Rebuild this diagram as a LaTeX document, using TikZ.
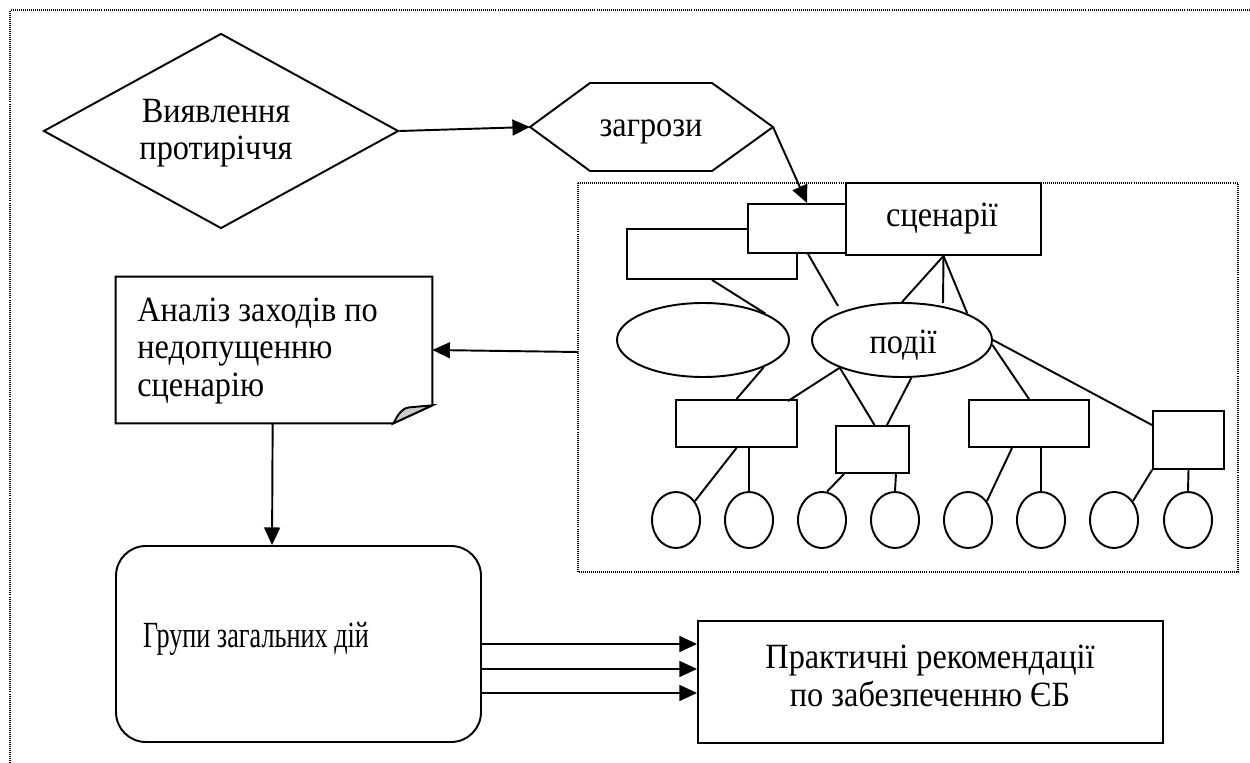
\documentclass[tikz,border=0pt]{standalone}
\usepackage{fontspec}
\setmainfont{Liberation Serif}[FakeStretch=0.91]
\newfontfamily\narrowfont{Liberation Serif}[FakeStretch=0.71]
\usetikzlibrary{shapes.geometric,arrows.meta,calc}
\begin{document}
\begin{tikzpicture}[x=0.02cm,y=-0.02cm,
  every node/.style={font=\fontsize{20.2pt}{21.3pt}\selectfont},
  ln/.style={line width=1.1pt},
  arr/.style={line width=1.1pt,-{Triangle[length=10pt,width=9pt]}},
  box/.style 2 args={draw,rectangle,line width=1.1pt,fill=white,minimum width=#1*0.02cm,minimum height=#2*0.02cm,inner sep=0pt},
  oval/.style 2 args={draw,ellipse,line width=1.1pt,fill=white,minimum width=#1*0.02cm,minimum height=#2*0.02cm,inner sep=0pt},
  dotframe/.style={line width=0.6pt,dash pattern=on 0.5pt off 0.65pt},
  txt/.style={inner sep=0pt}
]
\useasboundingbox (0,0) rectangle (1250,763);
% outer frame
\coordinate (oTR) at (1250,10);
\coordinate (oTL) at (10,10);
\coordinate (oBL) at (10,763);
\draw[dotframe] (oTR) -- (oTL) -- (oBL);

% diamond
\node[draw,diamond,line width=1.1pt,minimum width=355*0.02cm,minimum height=195*0.02cm,inner sep=0pt] (dia) at (221,131) {};
\node[txt,align=center] (diatext) at (216,133) {Виявлення\\протиріччя};

% hexagon
\coordinate (hexW) at (530,127);
\coordinate (hexE) at (773,127);
\draw[ln] (hexW) -- (590,83) -- (712,83) -- (hexE) -- (712,171) -- (590,171) -- cycle;
\node[txt] (threat) at (651,132) {загрози};
\draw[arr] (dia.east) -- (hexW);

% inner frame
\draw[dotframe] (578,183) rectangle (1238,572);
\coordinate (frameW) at (578,352);

% top rectangles
\node[box={170}{50}] (lr) at (712,254) {};
\node[box={100}{49}] (sr) at (798,228.5) {};
\node[box={195}{72}] (scen) at (943.5,219) {};
\node[txt] (scentext) at (942,219) {сценарії};
\draw[arr] (hexE) -- ($(sr.north west)+(60,0)$);

% ellipses
\node[oval={172}{74}] (e1) at (703,340) {};
\node[oval={180}{74}] (ev) at (902,340) {};
\node[txt] (evtext) at (903,345) {події};

% second row rectangles
\node[box={121}{47}] (R1) at (736.5,423.5) {};
\node[box={73}{47}] (R2) at (872.5,449.5) {};
\node[box={120}{47}] (R3) at (1029,423.5) {};
\node[box={71}{58}] (R4) at (1188.5,440) {};

% circles
\foreach \i/\x in {1/676,2/749,3/822,4/895,5/968,6/1041,7/1114,8/1188}
  \node[oval={48}{56}] (c\i) at (\x,520) {};

% connectors top
\coordinate (srEnd) at (838,306);
\coordinate (scEnd) at (943,303);
\draw[ln] (lr.south) -- (e1.23);
\draw[ln] ($(sr.south west)+(61,0)$) -- (srEnd);
\draw[ln] (scen.south) -- (ev.north);
\draw[ln] (scen.south) -- (scEnd);
\draw[ln] (scen.south) -- (ev.22);

% connectors middle
\draw[ln] (e1.-24) -- (R1.north);
\draw[ln] (ev.204) -- ($(R1.north east)+(-10,2)$);
\draw[ln] (ev.204) -- ($(R2.north)+(2,0)$);
\draw[ln] (ev.-76.5) -- ($(R2.north)+(14.5,0)$);
\draw[ln] (ev.-3) -- (R3.north);
\draw[ln] (ev.east) -- ($(R4.north west)+(0,15)$);

% connectors bottom
\draw[ln] (R1.south) -- (c1.45);
\draw[ln] ($(R1.south)+(12.5,0)$) -- (c2.north);
\draw[ln] ($(R2.south west)+(9,0)$) -- (c3.80);
\draw[ln] ($(R2.south east)+(-14,0)$) -- (c4.north);
\draw[ln] ($(R3.south)+(-17,0)$) -- (c5.45);
\draw[ln] ($(R3.south)+(12,0)$) -- (c6.north);
\draw[ln] (R4.south west) -- (c7.45);
\draw[ln] (R4.south) -- (c8.north);

% document shape
\node[minimum width=316*0.02cm,minimum height=146*0.02cm,inner sep=0pt] (doc) at (274,350) {};
\coordinate (fA) at ($(doc.south east)+(-39,0)$);
\coordinate (fB) at ($(doc.south east)+(0,-18)$);
\draw[ln,fill=white] (doc.north west) -- (doc.north east) -- (fB) -- (fA) -- (doc.south west) -- cycle;
\draw[ln,fill=gray!40] (fA) .. controls ($(fA)+(5,-9)$) and ($(fA)+(8,-15)$) .. ($(fA)+(16,-16)$) -- (fB) -- cycle;
\node[txt,anchor=west,align=left] (doctext) at (137,351) {Аналіз заходів по\\недопущенню\\сценарію};
\draw[arr] (frameW) -- (doc.east);

% group box
\node[draw,line width=1.1pt,rounded corners=17pt,minimum width=365*0.02cm,minimum height=196*0.02cm,inner sep=0pt] (grp) at (298.5,644) {};
\node[txt] (grptext) at (256,639) {\narrowfont\fontsize{21pt}{22pt}\selectfont Групи загальних дій};
\draw[arr] ($(doc.south west)+(157,0)$) -- ($(grp.north west)+(157,0)$);

% recommendations
\node[box={465}{122}] (rec) at (930.5,682) {};
\node[txt,align=center] (rectext) at (930,676) {Практичні рекомендації\\по забезпеченню ЄБ};
\coordinate (a1) at (grp.east);
\coordinate (a2) at ($(grp.east)+(0,25)$);
\coordinate (a3) at ($(grp.east)+(0,49)$);
\draw[arr] (a1) -- (a1 -| rec.west);
\draw[arr] (a2) -- (a2 -| rec.west);
\draw[arr] (a3) -- (a3 -| rec.west);
\end{tikzpicture}
\end{document}
